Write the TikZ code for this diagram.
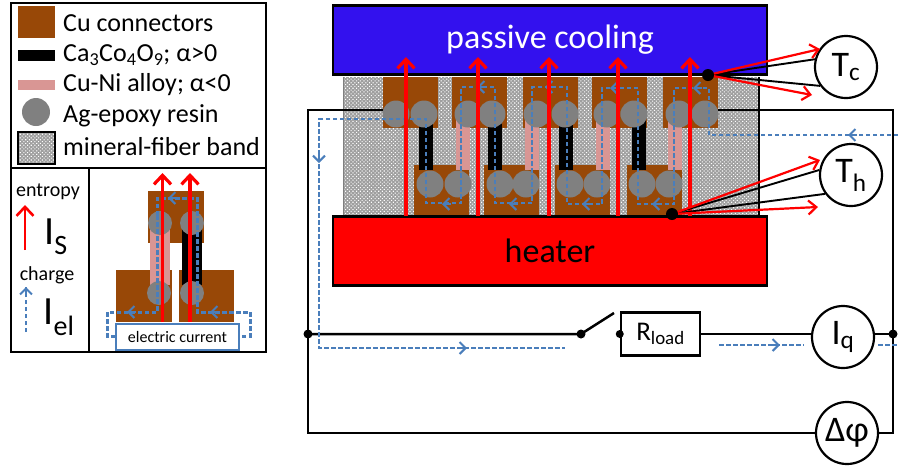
\documentclass[tikz,border=0pt]{standalone}
\usepackage{fontspec}
\setmainfont{Carlito}
\usetikzlibrary{arrows.meta,patterns.meta}
\definecolor{copper}{HTML}{984807}
\definecolor{alloy}{HTML}{D99694}
\definecolor{resin}{HTML}{808080}
\definecolor{flowblue}{HTML}{4A7EBB}
\definecolor{coolblue}{HTML}{3311EE}
\newcommand{\size}[1]{\fontsize{#1}{#1}\selectfont}
\tikzset{
    cu/.style={fill=copper,draw=none},
    resinball/.style={fill=resin,draw=none},
    band/.style={preaction={fill=gray!75},pattern={Dots[radius=0.75pt,distance=2.6pt,angle=45]},pattern color=white},
    box/.style={draw=black,line width=2.6pt},
    wire/.style={draw=black,line width=2.5pt},
    dot/.style={fill=black,draw=none},
    sensor/.style={circle,draw=black,line width=2.2pt,fill=white,minimum size=62pt,inner sep=0pt,font=\size{36}},
    entropy/.style={red,line width=3.2pt,->,>={Straight Barb[length=9pt,width=17pt]}},
    probe/.style={red,line width=2.2pt,->,>={Straight Barb[length=8pt,width=14pt]}},
    flow/.style={flowblue,line width=2.2pt,dash pattern=on 4.5pt off 2.5pt},
    flowtip/.style={flowblue,line width=2pt,->,>={Straight Barb[length=6pt,width=12pt]}},
    legend/.style={anchor=west,inner sep=0pt,font=\size{26}},
}
\begin{document}
\begin{tikzpicture}[x=1pt,y=-1pt,line join=miter]
    \useasboundingbox (0,0) rectangle (898,467);
    %% Module
    \fill[band] (343,77) rectangle (759,216);
    \draw[black,line width=1.4pt] (759,77) -- (759,216);
    \draw[gray,line width=1pt] (343,77) -- (343,216);
    \foreach \cux in {383,452,523,592,663} \fill[cu] (\cux,77) rectangle ++(55,51);
    \foreach \cux in {414,484,555,627} \fill[cu] (\cux,165) rectangle ++(55,51);
    \foreach \legx in {419,488,559,632} \fill[black] (\legx,120) rectangle ++(14,50);
    \foreach \legx in {456,525,596,668} \fill[alloy] (\legx,120) rectangle ++(14,50);
    \foreach \ballx in {396,424,468,492,537,565,607,634,679,705} \fill[resinball] (\ballx,114) circle (13.5);
    \foreach \ballx in {430,458,500,526,570,597,642,669} \fill[resinball] (\ballx,184) circle (13.5);
    %% Plates
    \node[box,fill=coolblue,text=white,minimum width=434pt,minimum height=69pt,inner sep=0pt,font=\size{34}] (cooling) at (550,40) {\raisebox{-3pt}{passive cooling}};
    \node[box,fill=red,minimum width=434pt,minimum height=69pt,inner sep=0pt,font=\size{34}] (heater) at (550,251) {heater};
    %% Circuit
    \coordinate (connL) at (383,110);
    \coordinate (connR) at (718,110);
    \coordinate (cornerTL) at (308,110);
    \coordinate (cornerTR) at (893,110);
    \coordinate (cornerBL) at (308,433);
    \coordinate (cornerBR) at (893,433);
    \coordinate (nodeL) at (308,334);
    \coordinate (nodeR) at (893,334);
    \coordinate (switchA) at (581,334);
    \coordinate (switchB) at (614,313);
    \node[draw=black,line width=2.5pt,minimum width=79pt,minimum height=43pt,inner sep=0pt,font=\size{27}] (load) at (660.5,334) {R\textsubscript{load}};
    \node[sensor] (Iq) at (843,337) {I\textsubscript{q}};
    \node[sensor] (dphi) at (847,433) {Δφ};
    \node[sensor] (Tc) at (846,67) {T\textsubscript{c}};
    \node[sensor] (Th) at (851,175) {T\textsubscript{h}};
    \draw[wire] (connL) -- (cornerTL) -- (cornerBL) -- (dphi);
    \draw[wire] (connR) -- (cornerTR) -- (cornerBR) -- (dphi);
    \draw[wire] (nodeL) -- (switchA) -- (switchB);
    \draw[wire] (load.east) -- (load.east -| Iq.west);
    \draw[wire] (nodeR -| Iq.east) -- (nodeR);
    \fill[dot] (nodeL) circle (4.5);
    \fill[dot] (nodeR) circle (4.5);
    \fill[dot] (switchA) circle (4.5);
    \fill[dot] (load.west) circle (4);
    %% Charge path
    \draw[flow] (898,135) -- (709,135) -- (709,88) -- (674,88) -- (674,204) -- (638,204) -- (638,88)
        -- (602,88) -- (602,204) -- (567,204) -- (567,87) -- (532,87) -- (532,203) -- (495,203)
        -- (495,87) -- (461,87) -- (461,203) -- (426,203) -- (426,119) -- (319,119) -- (319,348) -- (565,348);
    \draw[flow] (719,345) -- (804,345);
    \draw[flow] (878,345) -- (898,345);
    \foreach \tipx/\tipy in {477/87,545/87,610/88,693/88,442/204,509/204,582/204,652/204,848/135}
        \draw[flowtip] (\tipx+9,\tipy) -- (\tipx,\tipy);
    \foreach \tipx/\tipy in {467/348,780/345}
        \draw[flowtip] (\tipx-9,\tipy) -- (\tipx,\tipy);
    \draw[flowtip] (319,150) -- (319,163);
    %% Entropy
    \foreach \arrx in {406,478,549,618,690} \draw[entropy] (\arrx,216) -- (\arrx,57);
    %% Thermocouples
    \coordinate (cold) at (708,75);
    \coordinate (hot) at (672,214);
    \coordinate (coldA) at (820,49);
    \coordinate (coldB) at (812,95);
    \coordinate (hotA) at (820,160);
    \coordinate (hotB) at (818,207);
    \draw[black,line width=1.9pt] (cold) -- (Tc.166);
    \draw[black,line width=1.9pt] (cold) -- (Tc.216);
    \draw[black,line width=1.9pt] (hot) -- (Th.171);
    \draw[black,line width=1.9pt] (hot) -- (Th.216);
    \draw[probe] (cold) -- (coldA);
    \draw[probe] (cold) -- (coldB);
    \draw[probe] (hot) -- (hotA);
    \draw[probe] (hot) -- (hotB);
    \fill[dot] (cold) circle (6);
    \fill[dot] (hot) circle (6);
    %% Legend
    \draw[black,line width=1.6pt] (11,3) rectangle (266,352);
    \draw[black,line width=1.6pt] (11,168) -- (266,168);
    \draw[black,line width=1.6pt] (89,168) -- (89,352);
    \fill[cu] (18,6) rectangle (55,38);
    \fill[black] (18,50) rectangle (55,61);
    \fill[alloy] (18,80) rectangle (55,90);
    \fill[resinball] (36,112) circle (14);
    \fill[band] (18,132) rectangle (55,164);
    \draw[black,line width=1.8pt] (18,132) rectangle (55,164);
    \node[legend] (cuText) at (63,23) {Cu connectors};
    \node[legend] (caText) at (63,55) {Ca\textsubscript{3}Co\textsubscript{4}O\textsubscript{9}; α>0};
    \node[legend] (niText) at (63,85) {Cu-Ni alloy; α<0};
    \node[legend] (agText) at (63,116) {Ag-epoxy resin};
    \node[legend] (bandText) at (63,147) {mineral-fiber band};
    %% Symbols
    \node[inner sep=0pt,font=\size{20}] (entropyText) at (48,192) {entropy};
    \node[inner sep=0pt,font=\size{20}] (chargeText) at (47,275) {charge};
    \node[inner sep=0pt,font=\size{40}] (Is) at (56,237) {I\textsubscript{S}};
    \node[inner sep=0pt,font=\size{40}] (Iel) at (59,317) {I\textsubscript{el}};
    \coordinate (entropyBase) at (25,250);
    \coordinate (entropyTip) at (25,205);
    \coordinate (chargeBase) at (26,332);
    \coordinate (chargeTip) at (26,287);
    \draw[entropy,line width=2.6pt] (entropyBase) -- (entropyTip);
    \draw[flow] (chargeBase) -- (chargeTip);
    \draw[flowtip] (26,296) -- (chargeTip);
    %% Single couple
    \fill[cu] (148,191) rectangle (204,243);
    \fill[cu] (116,270) rectangle (172,322);
    \fill[cu] (179,270) rectangle (234,322);
    \fill[alloy] (150,225) rectangle (170,285);
    \fill[black] (182,225) rectangle (202,285);
    \foreach \ballx/\bally in {160/223,192/223,159/293,192/293} \fill[resinball] (\ballx,\bally) circle (12);
    \node[draw=flowblue,line width=1.8pt,fill=white,minimum width=123pt,minimum height=26pt,inner sep=0pt,font=\size{16}] (current) at (177.5,337) {electric current};
    \draw[flow,line width=3pt] (157,215) -- (157,198) -- (197,198) -- (197,312) -- (250,312) -- (250,336) -- (current.east |- 250,336);
    \draw[flow,line width=3pt] (157,215) -- (157,312) -- (107,312) -- (107,336) -- (current.west |- 107,336);
    \draw[flowtip] (177,198) -- (168,198);
    \draw[flowtip] (136,312) -- (127,312);
    \draw[flowtip] (219,312) -- (210,312);
    \draw[entropy] (162.5,322) -- (162.5,173);
    \draw[entropy] (190,322) -- (190,173);
\end{tikzpicture}
\end{document}
